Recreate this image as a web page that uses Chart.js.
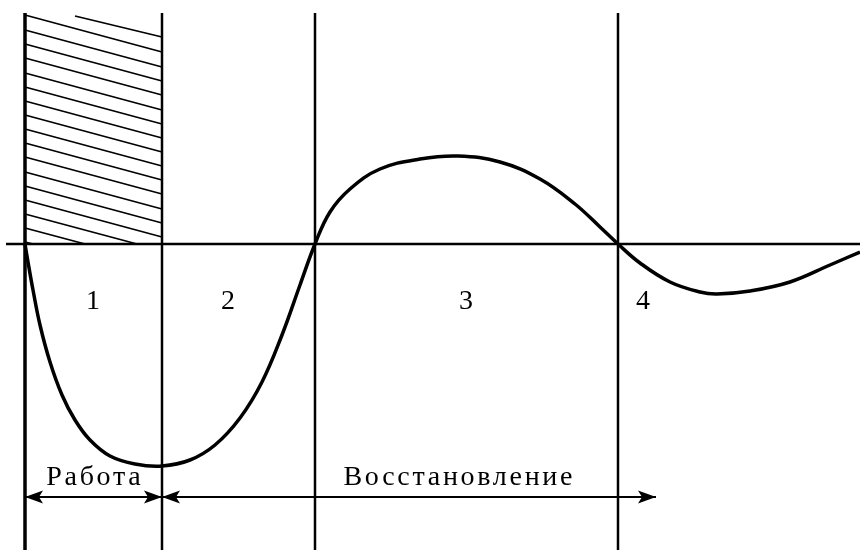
<!DOCTYPE html>
<html>
<head>
<meta charset="utf-8">
<script src="https://cdn.jsdelivr.net/npm/chart.js@4/dist/chart.umd.min.js"></script>
<style>
  body { margin: 0; background: #fff; }
  canvas { display: block; }
</style>
</head>
<body>
<canvas id="chart" width="860" height="550"></canvas>
<script>
// Curve (x = time from start of work, y = deviation from baseline)
const curveX = [0, 3, 8, 15, 25, 37, 50, 65, 85, 110, 137, 165, 190, 215, 237, 257, 275, 290,
                305, 325, 355, 395, 433, 475, 515, 550, 575, 593, 615, 645, 675, 692, 725, 765, 805, 835];
const curveY = [0, -18, -46, -81, -118, -151, -176, -196, -212, -220, -222, -216, -201, -174, -138, -91, -41, 0,
                32, 55, 75, 85, 88, 82, 65, 40, 17, 0, -19, -38, -48, -50, -47, -38, -21, -8];

// Phase boundaries and baseline
const boundaryX = [0, 137, 290, 593];
const boundaryWidth = [3.5, 2.5, 2.5, 2.5];
const boundaryTop = 231;
const boundaryBottom = -320;
const baselineX = [-19, 840];

// Hatching over the work phase (segment ends)
const hatchX0 = [50, 0, 0, 0, 0, 0, 0, 0, 0, 0, 0, 0, 0, 0, 0, 0, 0, 0];
const hatchY0 = [228, 229, 214, 200, 186, 171, 157, 143, 129, 115, 101, 87, 72, 58, 44, 30, 16, 2];
const hatchX1 = [137, 137, 137, 137, 137, 137, 137, 137, 137, 137, 137, 137, 137, 137, 137, 112, 60, 8];
const hatchY1 = [207, 192, 177, 163, 149, 134, 120, 106, 92, 78, 64, 50, 35, 21, 7, 0, 0, 0];

// Phase numbers
const phaseLabels = ['1', '2', '3', '4'];
const phaseLabelX = [68, 203, 441, 618];
const phaseLabelY = -65;

// Dimension arrows
const arrowText = ['Работа', 'Восстановление'];
const arrowFrom = [0, 137];
const arrowTo = [137, 631];
const arrowTextX = [68.5, 433];
const arrowTextY = -241;
const arrowY = -253;

const black = '#000';

function segment(x0, y0, x1, y1, width) {
    return {
        data: [{ x: x0, y: y0 }, { x: x1, y: y1 }],
        borderColor: black,
        borderWidth: width,
        pointRadius: 0,
        showLine: true,
        tension: 0
    };
}

const datasets = [];
hatchX0.forEach((x, i) => datasets.push(segment(x, hatchY0[i], hatchX1[i], hatchY1[i], 1.8)));
boundaryX.forEach((x, i) => datasets.push(segment(x, boundaryTop, x, boundaryBottom, boundaryWidth[i])));
datasets.push(segment(baselineX[0], 0, baselineX[1], 0, 2.5));
arrowFrom.forEach((x, i) => datasets.push(segment(x, arrowY, arrowTo[i], arrowY, 2)));
datasets.push({
    data: curveX.map((x, i) => ({ x: x, y: curveY[i] })),
    borderColor: black,
    borderWidth: 3.5,
    pointRadius: 0,
    showLine: true,
    tension: 0.4
});

const annotations = {
    id: 'annotations',
    afterDatasetsDraw(chart) {
        const ctx = chart.ctx;
        const xs = chart.scales.x;
        const ys = chart.scales.y;
        ctx.save();
        ctx.fillStyle = black;

        // arrowheads
        const head = (tipX, dir) => {
            const px = xs.getPixelForValue(tipX);
            const py = ys.getPixelForValue(arrowY);
            ctx.beginPath();
            ctx.moveTo(px, py);
            ctx.lineTo(px - dir * 18, py - 6.5);
            ctx.lineTo(px - dir * 14, py);
            ctx.lineTo(px - dir * 18, py + 6.5);
            ctx.closePath();
            ctx.fill();
        };
        arrowFrom.forEach((x, i) => {
            head(x, -1);
            head(arrowTo[i], 1);
        });

        ctx.font = '28px "Liberation Serif", "Times New Roman", serif';
        ctx.textAlign = 'center';
        ctx.textBaseline = 'alphabetic';
        phaseLabels.forEach((t, i) => {
            ctx.fillText(t, xs.getPixelForValue(phaseLabelX[i]), ys.getPixelForValue(phaseLabelY));
        });
        ctx.letterSpacing = '2.7px';
        arrowText.forEach((t, i) => {
            ctx.fillText(t, xs.getPixelForValue(arrowTextX[i]) + 1.3, ys.getPixelForValue(arrowTextY));
        });
        ctx.restore();
    }
};

new Chart(document.getElementById('chart'), {
    type: 'scatter',
    data: { datasets: datasets },
    options: {
        responsive: false,
        animation: false,
        layout: { padding: 0 },
        plugins: { legend: { display: false }, tooltip: { enabled: false } },
        scales: {
            x: { type: 'linear', min: -25, max: 835, display: false },
            y: { type: 'linear', min: -306, max: 244, display: false }
        }
    },
    plugins: [annotations]
});
</script>
</body>
</html>
